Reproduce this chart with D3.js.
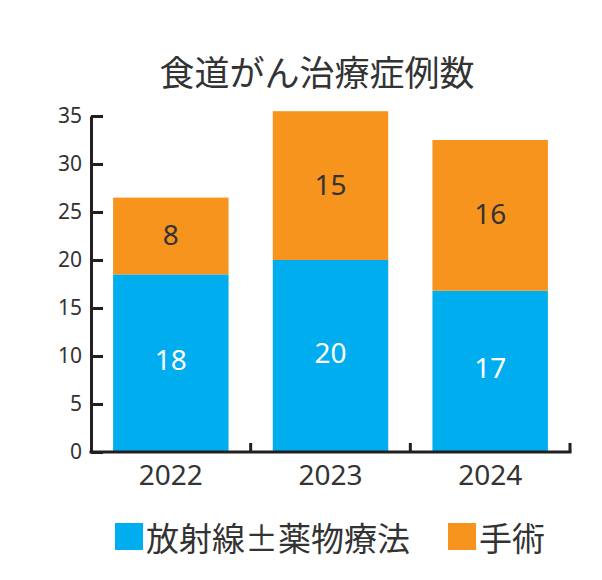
<!DOCTYPE html>
<html>
<head>
<meta charset="utf-8">
<script src="https://cdn.jsdelivr.net/npm/d3@7"></script>
<style>
  body { margin: 0; background: #fff; }
  text { font-family: "Noto Sans", "Noto Sans CJK JP", sans-serif; fill: #333; }
</style>
</head>
<body>
<div id="chart"></div>
<script>
// data
var years = ["2022", "2023", "2024"];
var radiation = [18.5, 20, 16.8];     // 放射線±薬物療法 (bar height as drawn)
var surgery = [8, 15.5, 15.7];        // 手術 (bar height as drawn)
var radiationLabels = ["18", "20", "17"];
var surgeryLabels = ["8", "15", "16"];
var yTicks = [0, 5, 10, 15, 20, 25, 30, 35];
var seriesNames = ["放射線±薬物療法", "手術"];
var colors = ["#00aeef", "#f7941d"];

var W = 602, H = 580;
var svg = d3.select("#chart").append("svg")
  .attr("width", W).attr("height", H);

var pad = 0.277;
var x = d3.scaleBand().domain(years).range([91, 570])
  .paddingInner(pad).paddingOuter(pad / 2);
var y = d3.scaleLinear().domain([0, 35]).range([452, 116]);

// title
svg.append("text")
  .attr("x", 317).attr("y", 70)
  .attr("text-anchor", "middle").attr("dominant-baseline", "central")
  .style("font-family", "'Noto Sans CJK JP'")
  .style("font-size", "35px")
  .text("食道がん治療症例数");

// stacked bars
var rows = years.map(function(d, i) {
  return { year: d, r: radiation[i], s: surgery[i], rl: radiationLabels[i], sl: surgeryLabels[i] };
});

var g = svg.append("g");
g.selectAll("rect.rad").data(rows).enter().append("rect")
  .attr("x", function(d) { return x(d.year); })
  .attr("width", x.bandwidth())
  .attr("y", function(d) { return y(d.r); })
  .attr("height", function(d) { return y(0) - y(d.r); })
  .attr("fill", colors[0]);

g.selectAll("rect.sur").data(rows).enter().append("rect")
  .attr("x", function(d) { return x(d.year); })
  .attr("width", x.bandwidth())
  .attr("y", function(d) { return y(d.r + d.s); })
  .attr("height", function(d) { return y(d.r) - y(d.r + d.s); })
  .attr("fill", colors[1]);

// value labels
g.selectAll("text.rl").data(rows).enter().append("text")
  .attr("x", function(d) { return x(d.year) + x.bandwidth() / 2; })
  .attr("y", function(d) { return (y(0) + y(d.r)) / 2 - 4; })
  .attr("text-anchor", "middle").attr("dominant-baseline", "central")
  .style("font-size", "28px").style("fill", "#fff")
  .text(function(d) { return d.rl; });

g.selectAll("text.sl").data(rows).enter().append("text")
  .attr("x", function(d) { return x(d.year) + x.bandwidth() / 2; })
  .attr("y", function(d) { return (y(d.r) + y(d.r + d.s)) / 2 - 2; })
  .attr("text-anchor", "middle").attr("dominant-baseline", "central")
  .style("font-size", "28px")
  .text(function(d) { return d.sl; });

// y axis
var yAxis = svg.append("g").attr("transform", "translate(91,0)")
  .call(d3.axisLeft(y).tickValues(yTicks).tickSizeInner(-12).tickSizeOuter(0).tickPadding(9));
yAxis.select(".domain").attr("stroke", "#231f20").attr("stroke-width", 3);
yAxis.selectAll(".tick line").attr("stroke", "#231f20").attr("stroke-width", 3);
yAxis.selectAll(".tick text").style("font-size", "21px").style("fill", "#333")
  .style("font-family", "'Noto Sans'");

// x axis
var xAxis = svg.append("g").attr("transform", "translate(0,452)")
  .call(d3.axisBottom(x).tickSize(0).tickPadding(13));
xAxis.select(".domain").remove();
xAxis.selectAll(".tick text").style("font-size", "28px").style("fill", "#333")
  .style("font-family", "'Noto Sans'");
svg.append("line")
  .attr("x1", 89.5).attr("x2", 571.5).attr("y1", 452).attr("y2", 452)
  .attr("stroke", "#231f20").attr("stroke-width", 3);
svg.selectAll("line.xb").data(years).enter().append("line")
  .attr("x1", function(d) { return x(d) + x.bandwidth() + x.step() * pad / 2; })
  .attr("x2", function(d) { return x(d) + x.bandwidth() + x.step() * pad / 2; })
  .attr("y1", 452).attr("y2", 443)
  .attr("stroke", "#231f20").attr("stroke-width", 3);

// legend
var legX = [115, 448];
var leg = svg.selectAll("g.leg").data(seriesNames).enter().append("g")
  .attr("transform", function(d, i) { return "translate(" + legX[i] + ",523)"; });
leg.append("rect").attr("width", 28).attr("height", 27)
  .attr("fill", function(d, i) { return colors[i]; });
leg.append("text").attr("x", 31).attr("y", 14)
  .attr("dominant-baseline", "central")
  .style("font-family", "'Noto Sans CJK JP'")
  .style("font-size", "33px")
  .text(function(d) { return d; });
</script>
</body>
</html>
